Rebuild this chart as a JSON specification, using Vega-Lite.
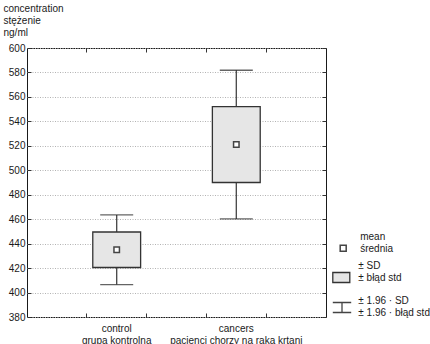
{
  "$schema": "https://vega.github.io/schema/vega-lite/v6.json",
  "width": 299,
  "height": 269,
  "autosize": {"type": "none"},
  "padding": {"left": 27, "top": 48, "right": 104, "bottom": 27},
  "background": "white",
  "config": {
    "font": "Liberation Sans",
    "view": {"stroke": "#1a1a1a", "strokeWidth": 1},
    "axis": {
      "labelFont": "Liberation Sans",
      "labelFontSize": 10,
      "labelColor": "#1a1a1a",
      "titleFont": "Liberation Sans",
      "domain": false,
      "tickColor": "#333333",
      "tickSize": -4,
      "grid": false,
      "labels": false
    },
    "legend": {
      "orient": "none",
      "labelFont": "Liberation Sans",
      "labelFontSize": 10,
      "labelColor": "#1a1a1a",
      "labelLimit": 200,
      "labelLineHeight": 11.3
    }
  },
  "data": {
    "values": [
      {"caption": "control|grupa kontrolna", "mean": 435, "sdLow": 420.5, "sdHigh": 449.5, "ciLow": 406.5, "ciHigh": 463.5},
      {"caption": "cancers|pacjenci chorzy na raka krtani", "mean": 521, "sdLow": 490, "sdHigh": 552, "ciLow": 460.2, "ciHigh": 581.8}
    ]
  },
  "layer": [
    {
      "mark": {"type": "rule", "strokeWidth": 1.3},
      "encoding": {
        "x": {
          "field": "caption", "type": "nominal", "sort": null,
          "scale": {"paddingInner": 0.5, "paddingOuter": 0.5},
          "axis": {"orient": "bottom", "title": null, "labels": true, "ticks": false, "labelAngle": 0,
                   "labelExpr": "split(datum.label, '|')", "labelPadding": 6, "labelLineHeight": 12}
        },
        "y": {
          "field": "ciLow", "type": "quantitative",
          "scale": {"domain": [380, 600], "nice": false, "zero": false},
          "axis": {
            "orient": "left", "labels": true, "grid": true, "gridDash": [1, 1.5], "gridColor": "#b3b3b3",
            "values": [380, 400, 420, 440, 460, 480, 500, 520, 540, 560, 580, 600],
            "labelPadding": 6,
            "title": ["concentration", "stężenie", "ng/ml"],
            "titleAngle": 0, "titleAlign": "left", "titleBaseline": "top",
            "titleX": -24, "titleY": -45, "titleFontWeight": "normal", "titleFontSize": 10,
            "titleLineHeight": 12.3, "titleColor": "#1a1a1a"
          }
        },
        "y2": {"field": "ciHigh"},
        "stroke": {
          "datum": "± 1.96 · SD|± 1.96 · błąd std",
          "scale": {"range": ["#444444"]},
          "legend": {
            "title": null,
            "labelExpr": "split(datum.label, '|')",
            "legendX": 304, "legendY": 248.5,
            "symbolType": "M-0.92,-0.5H0.92M0,-0.5V0.5M-0.92,0.5H0.92",
            "symbolSize": 400, "symbolStrokeColor": "#333333", "symbolStrokeWidth": 1.3,
            "labelOffset": 5.3,
            "encode": {"labels": {"update": {"dy": {"value": -6.5}}}}
          }
        }
      }
    },
    {
      "mark": {"type": "bar", "width": {"band": 0.8}, "stroke": "#333333", "strokeWidth": 1.3},
      "encoding": {
        "x": {
          "field": "caption", "type": "nominal", "sort": null,
          "axis": {"orient": "bottom", "title": null, "bandPosition": 0}
        },
        "y": {
          "field": "sdLow", "type": "quantitative",
          "axis": {"orient": "right", "title": null,
                   "values": [380, 400, 420, 440, 460, 480, 500, 520, 540, 560, 580, 600]}
        },
        "y2": {"field": "sdHigh"},
        "fill": {
          "datum": "± SD|± błąd std",
          "scale": {"range": ["#e6e6e6"]},
          "legend": {
            "title": null,
            "labelExpr": "split(datum.label, '|')",
            "legendX": 304.8, "legendY": 220,
            "symbolType": "M-1,-0.59H1V0.59H-1Z",
            "symbolSize": 289, "symbolStrokeColor": "#333333", "symbolStrokeWidth": 1.3,
            "labelOffset": 7.5,
            "encode": {"labels": {"update": {"dy": {"value": -11.5}}}}
          }
        }
      }
    },
    {
      "mark": {"type": "tick", "size": 33, "thickness": 1.3, "color": "#222222"},
      "encoding": {
        "x": {
          "field": "caption", "type": "nominal", "sort": null,
          "axis": {"orient": "bottom", "title": null, "bandPosition": 1}
        },
        "y": {"field": "ciLow", "type": "quantitative", "axis": null}
      }
    },
    {
      "mark": {"type": "tick", "size": 33, "thickness": 1.3, "color": "#222222"},
      "encoding": {
        "x": {
          "field": "caption", "type": "nominal", "sort": null,
          "axis": {"orient": "top", "title": null, "bandPosition": 0}
        },
        "y": {"field": "ciHigh", "type": "quantitative", "axis": null}
      }
    },
    {
      "mark": {"type": "point", "shape": "square", "filled": true, "fill": "white", "stroke": "#444444", "strokeWidth": 1.5, "size": 30},
      "encoding": {
        "x": {
          "field": "caption", "type": "nominal", "sort": null,
          "axis": {"orient": "top", "title": null, "bandPosition": 1}
        },
        "y": {"field": "mean", "type": "quantitative", "axis": null},
        "opacity": {
          "datum": "mean|średnia",
          "type": "ordinal",
          "scale": {"range": [1]},
          "legend": {
            "title": null,
            "labelExpr": "split(datum.label, '|')",
            "legendX": 311.2, "legendY": 184,
            "symbolType": "M-1,2.77H1V4.77H-1Z",
            "symbolSize": 36, "labelOffset": 12,
            "encode": {
              "symbols": {
                "update": {
                  "fill": {"value": "white"},
                  "stroke": {"value": "#444444"},
                  "strokeWidth": {"value": 1.5},
                  "opacity": {"value": 1}
                }
              }
            }
          }
        }
      }
    }
  ],
  "resolve": {"axis": {"x": "independent", "y": "independent"}}
}
